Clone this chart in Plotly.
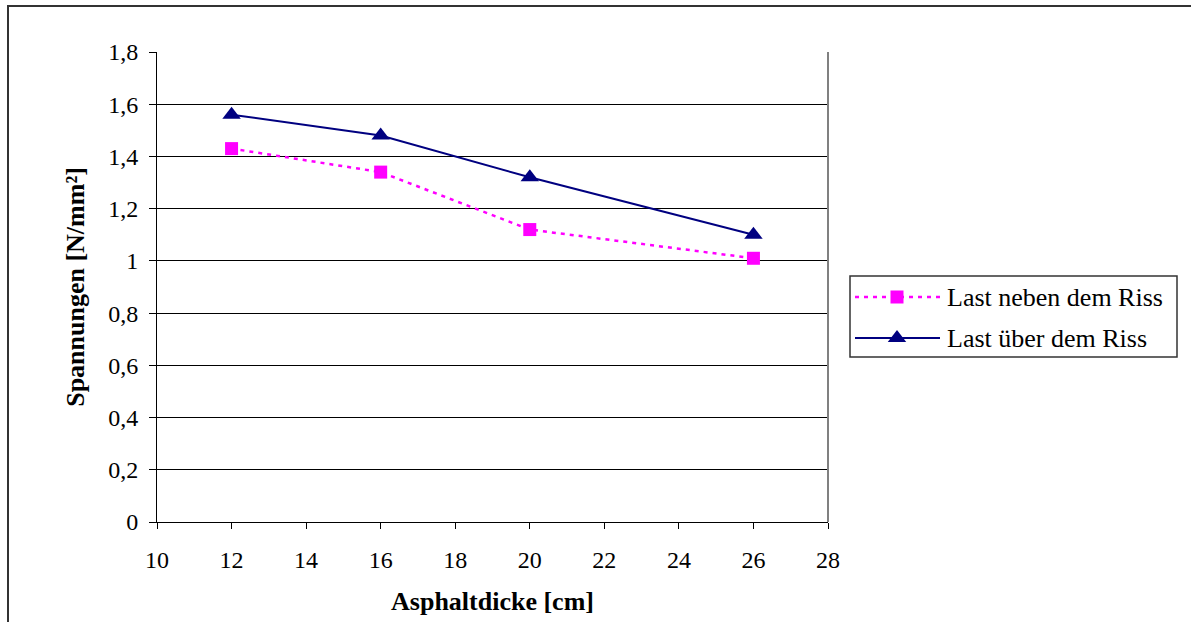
import plotly.graph_objects as go

# Asphalt thickness [cm]
dicke = [12, 16, 20, 26]
# Stresses [N/mm²]
neben_riss = [1.43, 1.34, 1.12, 1.01]
ueber_riss = [1.56, 1.48, 1.32, 1.10]

series_names = ["Last neben dem Riss", "Last über dem Riss"]

y_ticks = [0, 0.2, 0.4, 0.6, 0.8, 1.0, 1.2, 1.4, 1.6, 1.8]
y_ticktext = ["0", "0,2", "0,4", "0,6", "0,8", "1", "1,2", "1,4", "1,6", "1,8"]
x_ticks = [10, 12, 14, 16, 18, 20, 22, 24, 26, 28]

FONT = "Liberation Serif, Times New Roman, Tinos, DejaVu Serif, serif"
W, H = 1191, 622

# series styles
STYLES = [
    dict(line=dict(color="#FF00FF", width=2.5, dash="4px,5px"),
         marker=dict(symbol="square", size=13, color="#FF00FF")),
    dict(line=dict(color="#000080", width=2),
         marker=dict(symbol="triangle-up", size=16, color="#000080")),
]


def px_x(p):
    return p / W


def px_y(p):
    return (H - p) / H


fig = go.Figure()
for name, vals, st in zip(series_names, [neben_riss, ueber_riss], STYLES):
    fig.add_trace(go.Scatter(
        x=dicke, y=vals, mode="lines+markers", name=name,
        line=st["line"], marker=st["marker"], showlegend=False,
    ))

# legend drawn on its own small axes pair so the line samples can be long
LEG_X = [850, 1177]
LEG_Y = [357, 276]
row_y = [297, 338]
for name, ry, st in zip(series_names, row_y, STYLES):
    fig.add_trace(go.Scatter(
        x=[855, 940], y=[ry, ry], mode="lines", line=st["line"],
        xaxis="x2", yaxis="y2", showlegend=False, hoverinfo="skip",
    ))
    fig.add_trace(go.Scatter(
        x=[897], y=[ry], mode="markers", marker=st["marker"],
        xaxis="x2", yaxis="y2", showlegend=False, hoverinfo="skip",
    ))

annotations = [
    dict(x=945, y=ry, xref="x2", yref="y2", text=name, showarrow=False,
         xanchor="left", yanchor="middle",
         font=dict(family=FONT, size=26, color="black"))
    for name, ry in zip(series_names, row_y)
]

fig.update_layout(
    template="none",
    width=W, height=H,
    margin=dict(l=0, r=0, t=0, b=0, autoexpand=False),
    paper_bgcolor="white", plot_bgcolor="white",
    font=dict(family=FONT, size=24, color="black"),
    showlegend=False,
    annotations=annotations,
    shapes=[
        # outer chart frame
        dict(type="rect", xref="paper", yref="paper",
             x0=px_x(8), x1=1.5, y0=-0.5, y1=px_y(6),
             line=dict(color="#333333", width=2)),
        # right edge of plot area
        dict(type="line", xref="paper", yref="paper",
             x0=px_x(828), x1=px_x(828), y0=px_y(522), y1=px_y(52),
             line=dict(color="#808080", width=2)),
        # legend frame
        dict(type="rect", xref="paper", yref="paper",
             x0=px_x(LEG_X[0]), x1=px_x(LEG_X[1]),
             y0=px_y(LEG_Y[0]), y1=px_y(LEG_Y[1]),
             line=dict(color="#333333", width=1.5)),
    ],
    xaxis=dict(
        domain=[px_x(157), px_x(828)], automargin=False,
        range=[10, 28], tickvals=x_ticks, ticks="outside", ticklen=6,
        tickcolor="black", showline=True, linecolor="black", linewidth=1,
        showgrid=False, zeroline=False, ticklabelstandoff=10,
        tickfont=dict(family=FONT, size=24),
        title=dict(text="<b>Asphaltdicke [cm]</b>", font=dict(family=FONT, size=26), standoff=20),
    ),
    yaxis=dict(
        domain=[px_y(522), px_y(52)], automargin=False,
        range=[0, 1.8], tickvals=y_ticks, ticktext=y_ticktext, ticks="outside",
        ticklen=7, tickcolor="black", showline=True, linecolor="black", linewidth=1,
        showgrid=True, gridcolor="black", gridwidth=1, zeroline=False,
        ticklabelstandoff=6, tickfont=dict(family=FONT, size=24),
        title=dict(text="<b>Spannungen [N/mm²]</b>", font=dict(family=FONT, size=26), standoff=16),
    ),
    xaxis2=dict(domain=[px_x(LEG_X[0]), px_x(LEG_X[1])], range=LEG_X,
                visible=False, fixedrange=True, automargin=False),
    yaxis2=dict(domain=[px_y(LEG_Y[0]), px_y(LEG_Y[1])], range=LEG_Y,
                visible=False, fixedrange=True, anchor="x2", automargin=False),
)

fig.write_html("out.html")
